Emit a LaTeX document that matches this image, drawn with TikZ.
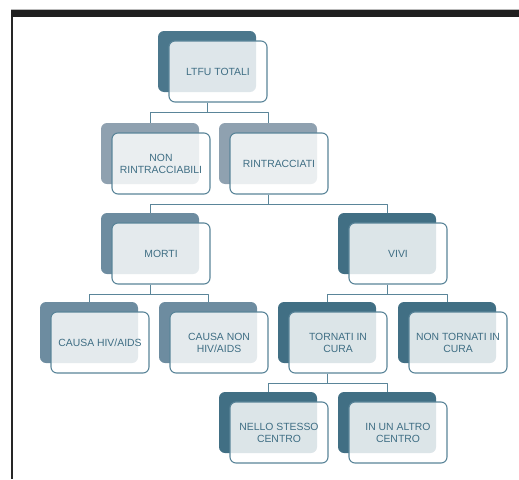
\documentclass[tikz,border=0pt]{standalone}
\usepackage{fontspec}
\setmainfont{Liberation Sans}
\definecolor{topback}{HTML}{4B778C}
\definecolor{darkback}{HTML}{416F84}
\definecolor{midback}{HTML}{6D8CA0}
\definecolor{lightback}{HTML}{8FA1B0}
\definecolor{boxline}{HTML}{5A8599}
\definecolor{boxtext}{HTML}{3F6E84}
\tikzset{
  backbox/.style={rounded corners=6pt, minimum width=98pt, minimum height=61pt, inner sep=0pt, fill=#1},
  frontbox/.style={rounded corners=6pt, minimum width=98pt, minimum height=61pt, inner sep=0pt,
    draw=boxline, line width=1.1pt, fill=white, fill opacity=0.82, text opacity=1,
    align=center, text=boxtext, font=\fontsize{10.4}{12}\selectfont},
  conn/.style={draw=boxline, line width=1pt}
}
\newcommand{\chartbox}[5]{%
  \node[backbox=#4] (#1-b) at (#2+49,#3+30.5) {};
  \node[frontbox] (#1) at (#2+60,#3+40.5) {#5};}
\begin{document}
\begin{tikzpicture}[x=1pt, y=-1pt, line join=round]
            \useasboundingbox (0,0) rectangle (519,479);
            \fill[black!88] (11,10) rectangle (519,17);
            \draw[gray!55] (11,9.5)--(519,9.5);
            \draw[line width=1.5pt, black!85] (12,17)--(12,479);
            \chartbox{ltfu}{158}{31}{topback}{LTFU TOTALI}
            \chartbox{nonr}{101}{123}{lightback}{NON\\RINTRACCIABILI}
            \chartbox{rintr}{219}{123}{lightback}{RINTRACCIATI}
            \chartbox{morti}{101}{213}{midback}{MORTI}
            \chartbox{vivi}{338}{213}{darkback}{VIVI}
            \chartbox{hiv}{40}{302}{midback}{CAUSA HIV/AIDS}
            \chartbox{nonhiv}{159}{302}{midback}{CAUSA NON\\HIV/AIDS}
            \chartbox{torn}{278}{302}{darkback}{TORNATI IN\\CURA}
            \chartbox{nontorn}{398}{302}{darkback}{NON TORNATI IN\\CURA}
            \chartbox{nello}{219}{392}{darkback}{NELLO STESSO\\CENTRO}
            \chartbox{altro}{338}{392}{darkback}{IN UN ALTRO\\CENTRO}
            \foreach \p/\c in {ltfu/nonr, ltfu/rintr, rintr/morti, rintr/vivi, morti/hiv, morti/nonhiv, vivi/torn, vivi/nontorn, torn/nello, torn/altro}
              \draw[conn] (\p-b |- \p.south)--++(0,10) -| (\c-b.north);
        \end{tikzpicture}
\end{document}
